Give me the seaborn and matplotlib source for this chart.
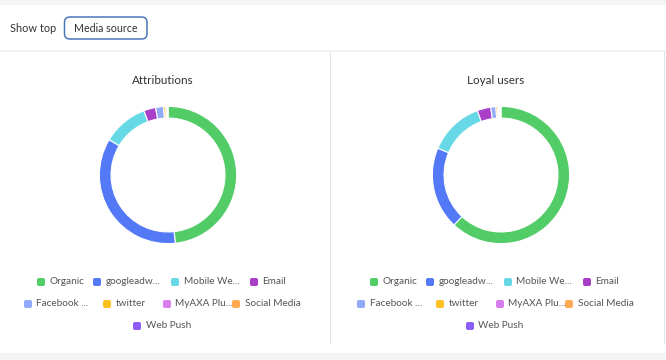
import matplotlib
matplotlib.use("Agg")
import matplotlib.pyplot as plt
import seaborn as sns
from matplotlib.patches import FancyBboxPatch, Rectangle

categories = ["Organic", "googleadw...", "Mobile We...", "Email", "Facebook ...",
              "twitter", "MyAXA Plu...", "Social Media", "Web Push"]
attributions = [48.3, 35.3, 10.7, 2.8, 1.9, 0.5, 0.2, 0.2, 0.1]
loyal_users = [62.0, 19.4, 13.0, 3.2, 1.2, 0.4, 0.3, 0.3, 0.2]
panel_titles = ["Attributions", "Loyal users"]
colors = ["#52CC67", "#5479F7", "#67D8E6", "#A93EC9", "#93A9F9",
          "#FDC11F", "#D97CEE", "#FFA952", "#8B5CF6"]

sns.set_theme(style="white")
plt.rcParams['font.family'] = ['Lato', 'DejaVu Sans']

W, H = 666, 360
fig = plt.figure(figsize=(W / 100, H / 100), dpi=100)
fig.patch.set_facecolor("white")

def fx(x):
    return x / W

def fy(y):
    return 1 - y / H

def rect(x0, y0, x1, y1, color, **kw):
    fig.patches.append(Rectangle((fx(x0), fy(y1)), fx(x1) - fx(x0), fy(y0) - fy(y1),
                                 transform=fig.transFigure, facecolor=color,
                                 edgecolor="none", **kw))

# background strips
rect(0, 0, W, 5, "#F3F4F6")
rect(0, 49.5, W, 52, "#F0F1F5")
rect(0, 352.5, W, H, "#F3F4F6")
rect(329.5, 52, 330.7, 344, "#E4E5EA")
rect(663.5, 52, 664.7, 344, "#E4E5EA")

# header
fig.text(fx(10), fy(28.5), "Show top", fontsize=7.9, color="#333333", va="center", ha="left")
fig.patches.append(FancyBboxPatch((fx(64.5), fy(39)), fx(147) - fx(64.5), fy(17) - fy(39),
                                  boxstyle="round,pad=0,rounding_size=0.008",
                                  transform=fig.transFigure, facecolor="white",
                                  edgecolor="#4A78B8", linewidth=1.1,
                                  mutation_aspect=W / H))
fig.text(fx(105.5), fy(28.5), "Media source", fontsize=7.7, color="#333333", va="center", ha="center")

# donuts
series = [attributions, loyal_users]
centers = [168, 501]
R = 70
for vals, cx, title in zip(series, centers, panel_titles):
    ax = fig.add_axes([fx(cx - R), fy(175 + R), fx(2 * R), (2 * R) / H])
    ax.pie(vals, colors=colors, startangle=90, counterclock=False, radius=1,
           wedgeprops=dict(width=0.17, edgecolor="white", linewidth=0.8))
    ax.set_xlim(-1.02, 1.02)
    ax.set_ylim(-1.02, 1.02)
    ax.axis("off")
    fig.text(fx(cx - 5), fy(80), title, fontsize=8.4, color="#333333", ha="center", va="center")

# legends
legend_pos = [(41, 282), (97, 282), (175, 282), (254, 282),
              (28, 304), (107, 304), (167, 304), (236, 304),
              (137, 326)]
for shift in (0, 333):
    for (mx, my), lab, col in zip(legend_pos, categories, colors):
        x = mx + shift
        fig.patches.append(FancyBboxPatch((fx(x - 4), fy(my + 4)), fx(8), 8 / H,
                                          boxstyle="round,pad=0,rounding_size=0.003",
                                          transform=fig.transFigure, facecolor=col,
                                          edgecolor="none", mutation_aspect=W / H))
        fig.text(fx(x + 8.5), fy(my), lab, fontsize=7.2, color="#555555", ha="left", va="center")

fig.savefig("out.png", dpi=100)
